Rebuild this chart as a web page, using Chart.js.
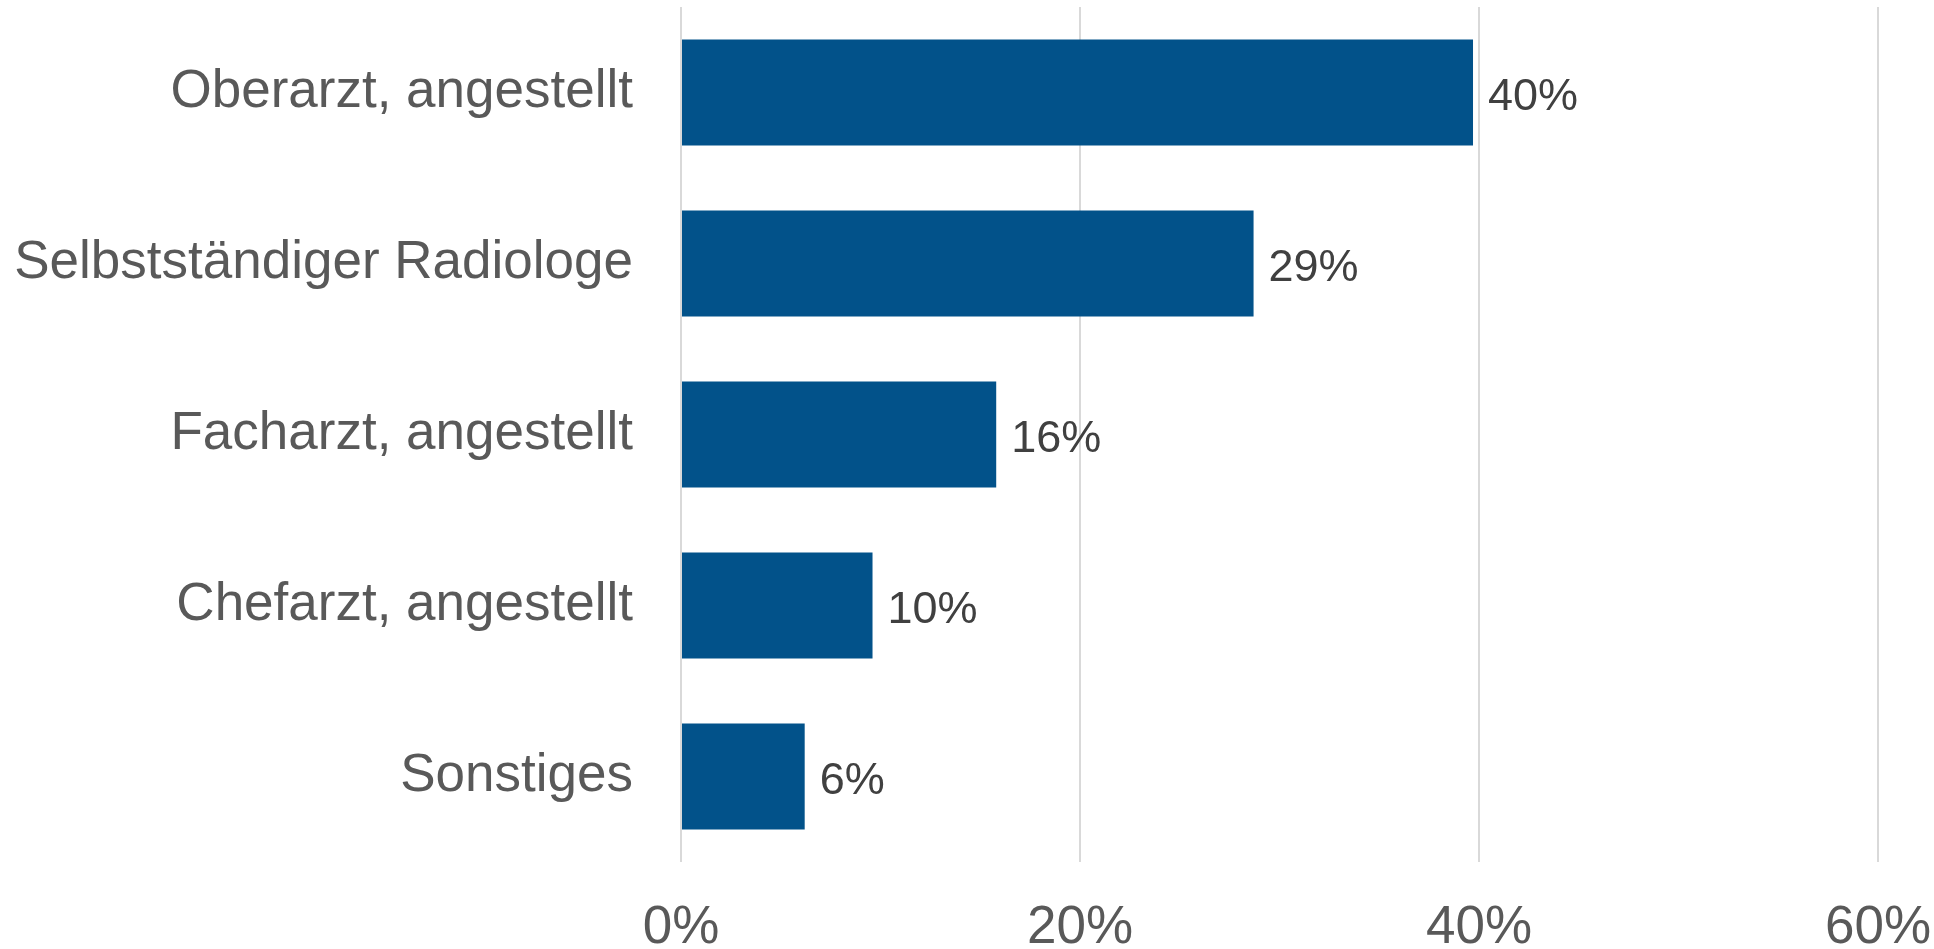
<!DOCTYPE html>
<html>
<head>
<meta charset="utf-8">
<script src="https://cdn.jsdelivr.net/npm/chart.js@4.4.1/dist/chart.umd.min.js"></script>
<style>
    html, body { margin: 0; padding: 0; background: #fff; }
    #wrap { width: 1934px; height: 949px; }
</style>
</head>
<body>
<div id="wrap"><canvas id="chart" width="1934" height="949"></canvas></div>
<script>
const categories = [
    'Oberarzt, angestellt',
    'Selbstständiger Radiologe',
    'Facharzt, angestellt',
    'Chefarzt, angestellt',
    'Sonstiges'
];
const shares = [39.7, 28.7, 15.8, 9.6, 6.2];
const shareLabels = ['40%', '29%', '16%', '10%', '6%'];
const xTicks = [0, 20, 40, 60];

// simple value labels next to the bars
const barLabels = {
    id: 'barLabels',
    afterDatasetsDraw(chart) {
        const ctx = chart.ctx;
        const meta = chart.getDatasetMeta(0);
        ctx.save();
        ctx.font = '45px "Liberation Sans", Arial, sans-serif';
        ctx.fillStyle = '#404040';
        ctx.textAlign = 'left';
        ctx.textBaseline = 'middle';
        meta.data.forEach((bar, i) => {
            ctx.fillText(shareLabels[i], bar.x + 15, bar.y + 5);
        });
        ctx.restore();
    }
};

const ctx = document.getElementById('chart').getContext('2d');
new Chart(ctx, {
    type: 'bar',
    data: {
        labels: categories,
        datasets: [{
            data: shares,
            backgroundColor: '#02528a',
            borderWidth: 0,
            barPercentage: 0.62,
            categoryPercentage: 1
        }]
    },
    options: {
        indexAxis: 'y',
        responsive: false,
        animation: false,
        devicePixelRatio: 1,
        layout: { padding: { top: 7, right: 56, bottom: 0, left: 0 } },
        plugins: {
            legend: { display: false },
            tooltip: { enabled: false }
        },
        scales: {
            x: {
                min: 0,
                max: 60,
                afterBuildTicks: (scale) => {
                    scale.ticks = xTicks.map(v => ({ value: v }));
                },
                afterFit: (scale) => {
                    scale.height = 87;
                    scale.paddingLeft = 0;
                    scale.paddingRight = 0;
                },
                grid: { color: '#d9d9d9', lineWidth: 2, drawTicks: false },
                border: { display: false },
                ticks: {
                    padding: 35,
                    color: '#595959',
                    font: { family: '"Liberation Sans", Arial, sans-serif', size: 53 },
                    callback: (v) => v + '%'
                }
            },
            y: {
                afterFit: (scale) => {
                    scale.width = 681;
                    scale.paddingTop = 0;
                    scale.paddingBottom = 0;
                },
                grid: { display: false, drawTicks: false },
                border: { display: false },
                ticks: {
                    padding: 48,
                    color: '#595959',
                    font: { family: '"Liberation Sans", Arial, sans-serif', size: 53 }
                }
            }
        }
    },
    plugins: [barLabels]
});
</script>
</body>
</html>
